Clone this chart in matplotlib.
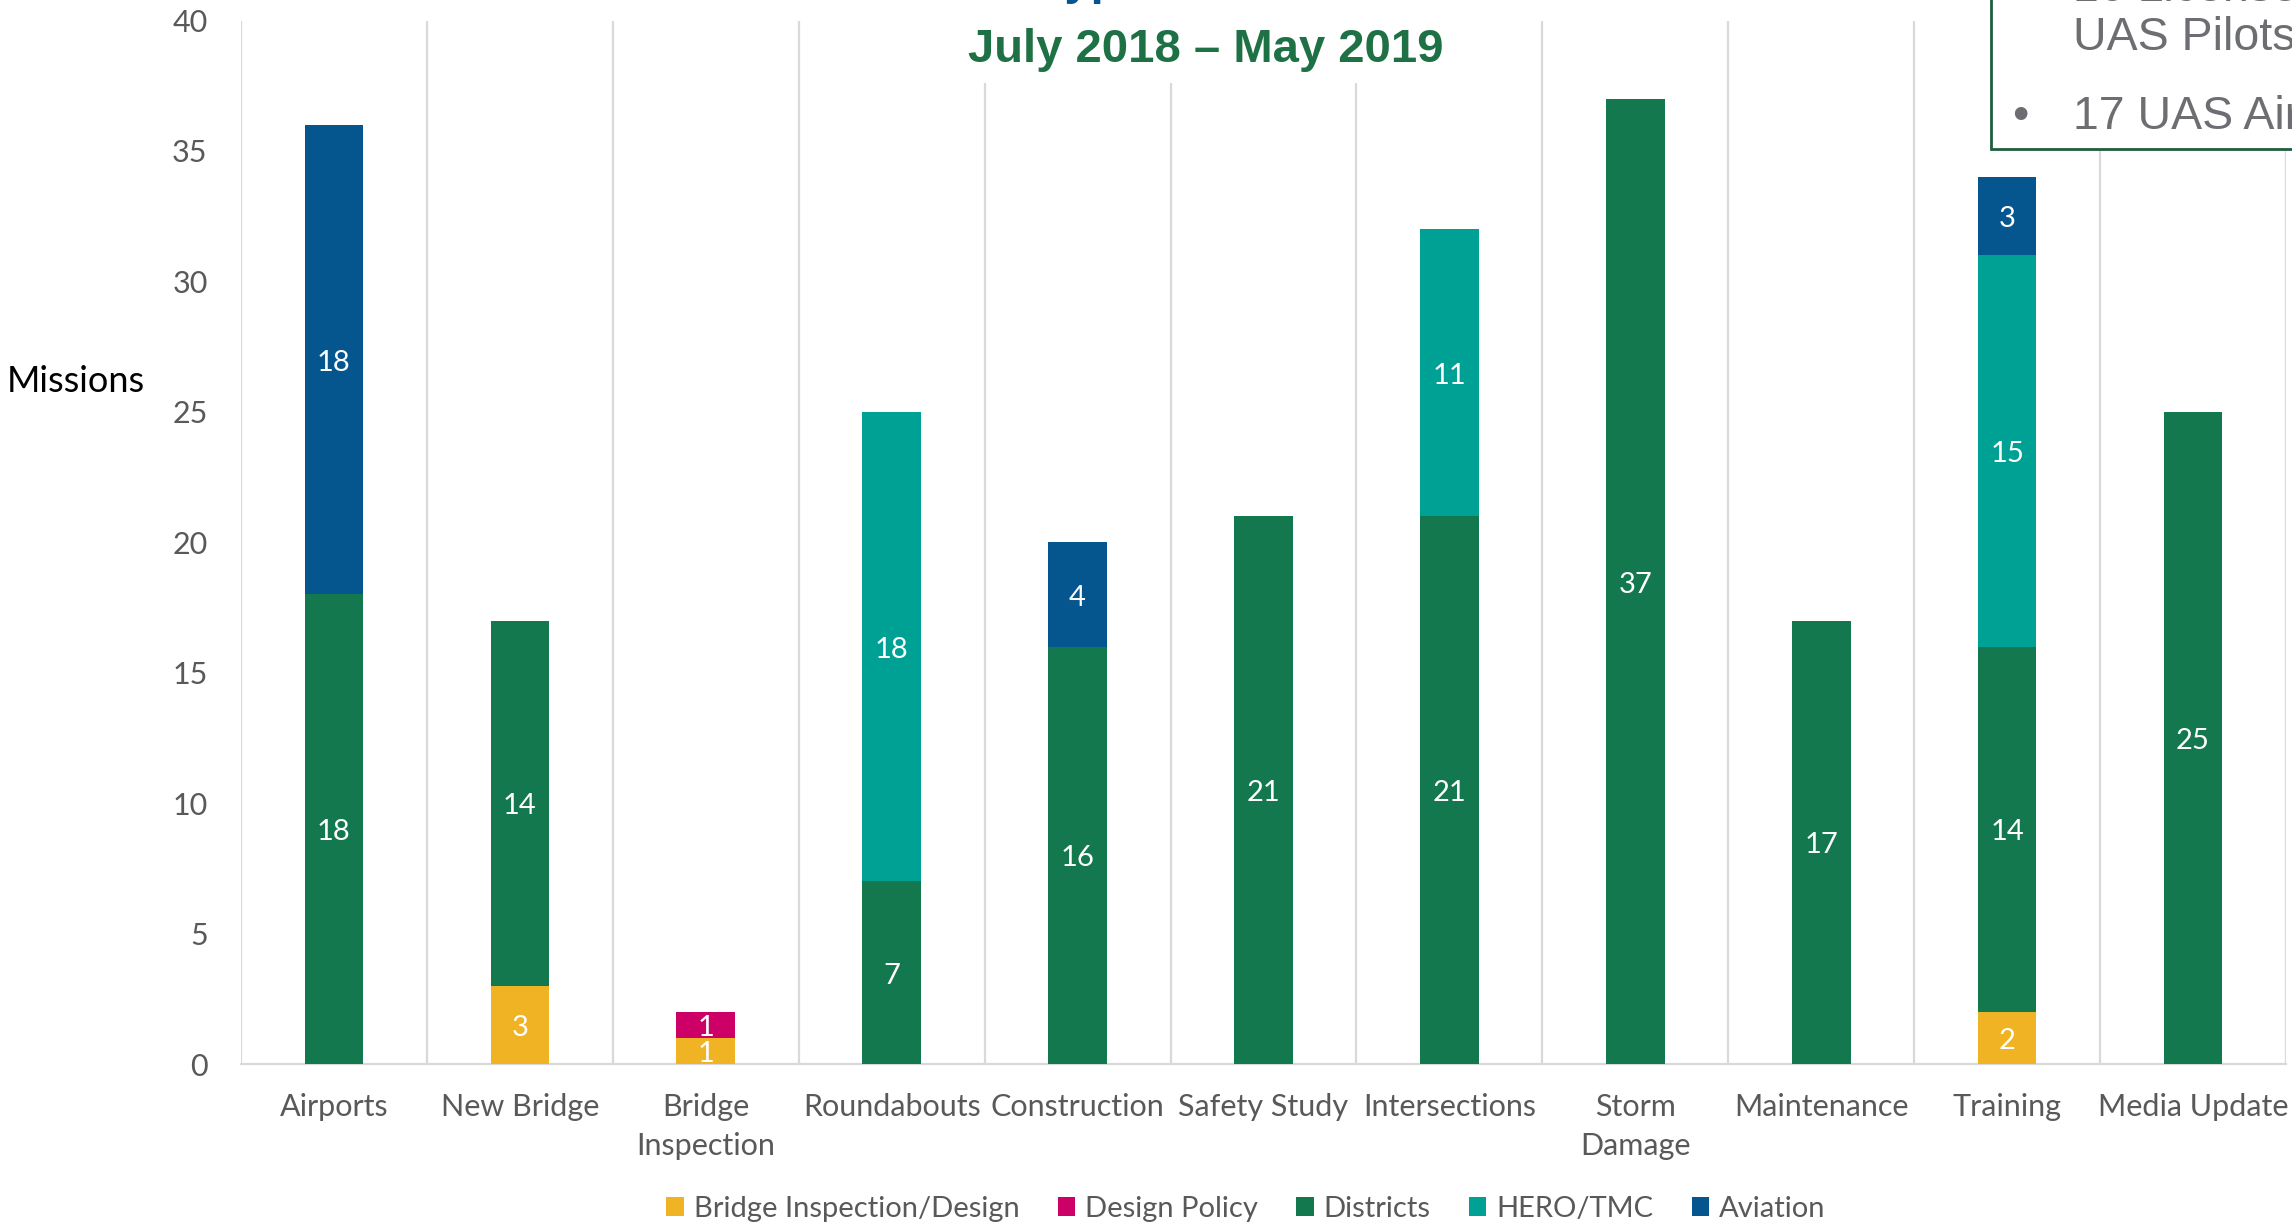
import numpy as np
import matplotlib.pyplot as plt
from matplotlib.patches import Rectangle

# ===== data
categories = ['Airports', 'New Bridge', 'Bridge\nInspection', 'Roundabouts', 'Construction',
              'Safety Study', 'Intersections', 'Storm\nDamage', 'Maintenance', 'Training', 'Media Update']
series_names = ['Bridge Inspection/Design', 'Design Policy', 'Districts', 'HERO/TMC', 'Aviation']
bridge_insp = [0, 3, 1, 0, 0, 0, 0, 0, 0, 2, 0]
design_policy = [0, 0, 1, 0, 0, 0, 0, 0, 0, 0, 0]
districts = [18, 14, 0, 7, 16, 21, 21, 37, 17, 14, 25]
hero_tmc = [0, 0, 0, 18, 0, 0, 11, 0, 0, 15, 0]
aviation = [18, 0, 0, 0, 4, 0, 0, 0, 0, 3, 0]
colors = ['#F0B323', '#CC0066', '#13784E', '#00A195', '#05558F']
yticks = [0, 5, 10, 15, 20, 25, 30, 35, 40]

W, H = 2292, 1225
fig = plt.figure(figsize=(W / 100, H / 100), dpi=100)
ax = fig.add_axes([241 / W, 1 - 1064 / H, (2286 - 241) / W, (1064 - 20.5) / H])

calibri = 'Lato'
arial = 'Liberation Sans'
x = np.arange(len(categories))
bottoms = np.zeros(len(categories))
for name, vals, col in zip(series_names, [bridge_insp, design_policy, districts, hero_tmc, aviation], colors):
    vals = np.array(vals)
    ax.bar(x, vals, 0.315, bottom=bottoms, color=col, label=name, zorder=3)
    for xi, v, b in zip(x, vals, bottoms):
        if v > 0:
            ax.text(xi, b + v / 2 - 0.12, str(v), ha='center', va='center', color='white',
                    fontsize=21, family=calibri, zorder=4)
    bottoms += vals

ax.set_xlim(-0.5, len(categories) - 0.5)
ax.set_ylim(0, 40)
ax.set_yticks(yticks)
ax.set_xticks(x, categories)
ax.set_xticks(np.arange(len(categories) + 1) - 0.5, minor=True)
ax.grid(axis='x', which='minor', color='#D9D9D9', lw=1.6, zorder=0)
ax.grid(axis='x', which='major', visible=False)
ax.tick_params(axis='x', which='both', length=0, pad=21, labelsize=22, labelcolor='#595959')
ax.tick_params(axis='y', length=0, pad=24, labelsize=22, labelcolor='#595959')
for lab in ax.get_xticklabels() + ax.get_yticklabels():
    lab.set_family(calibri)
for lab in ax.get_xticklabels():
    lab.set_linespacing(1.45)
for s in ['top', 'right', 'left']:
    ax.spines[s].set_visible(False)
ax.spines['bottom'].set_color('#D9D9D9')
ax.spines['bottom'].set_linewidth(1.6)

fig.text(7 / W, 1 - 381 / H, 'Missions', ha='left', va='center', fontsize=26,
         family=calibri, color='black')

leg = fig.legend(loc='center', bbox_to_anchor=(1246 / W, 16 / H), ncol=5, frameon=False,
                 prop={'family': calibri, 'size': 21}, handlelength=0.6, handleheight=0.6,
                 handletextpad=0.35, columnspacing=1.3)
for t in leg.get_texts():
    t.set_color('#595959')

# ===== slide overlays: title box and info box
fig.patches.append(Rectangle((860 / W, 1 - 83 / H), 620 / W, 83 / H, transform=fig.transFigure,
                             fc='white', ec='none', zorder=5))
fig.text(1206 / W, 1 - 50 / H, 'July 2018 \u2013 May 2019', ha='center', va='center',
         fontsize=34, fontweight='bold', family=arial, color='#1E7145', zorder=6)
fig.text(1040 / W, 1 + 6 / H, 'Type', ha='left', va='baseline', fontsize=34,
         fontweight='bold', family=arial, color='#05558F', zorder=6)

fig.patches.append(Rectangle((1991 / W, 1 - 149 / H), 400 / W, 200 / H, transform=fig.transFigure,
                             fc='white', ec='#1E5E3C', lw=2, zorder=5))
fig.text(2073 / W, 1 - 1 / H, '16 Licensed', ha='left', va='baseline', fontsize=33.5,
         family=arial, color='#6D6E71', zorder=6)
fig.text(2073 / W, 1 - 50 / H, 'UAS Pilots', ha='left', va='baseline', fontsize=33.5,
         family=arial, color='#6D6E71', zorder=6)
fig.text(2012 / W, 1 - 129 / H, '\u2022', ha='left', va='baseline', fontsize=33.5,
         family=arial, color='#6D6E71', zorder=6)
fig.text(2073 / W, 1 - 129 / H, '17 UAS Aircraft', ha='left', va='baseline', fontsize=33.5,
         family=arial, color='#6D6E71', zorder=6)

fig.savefig('out.png', dpi=100)
